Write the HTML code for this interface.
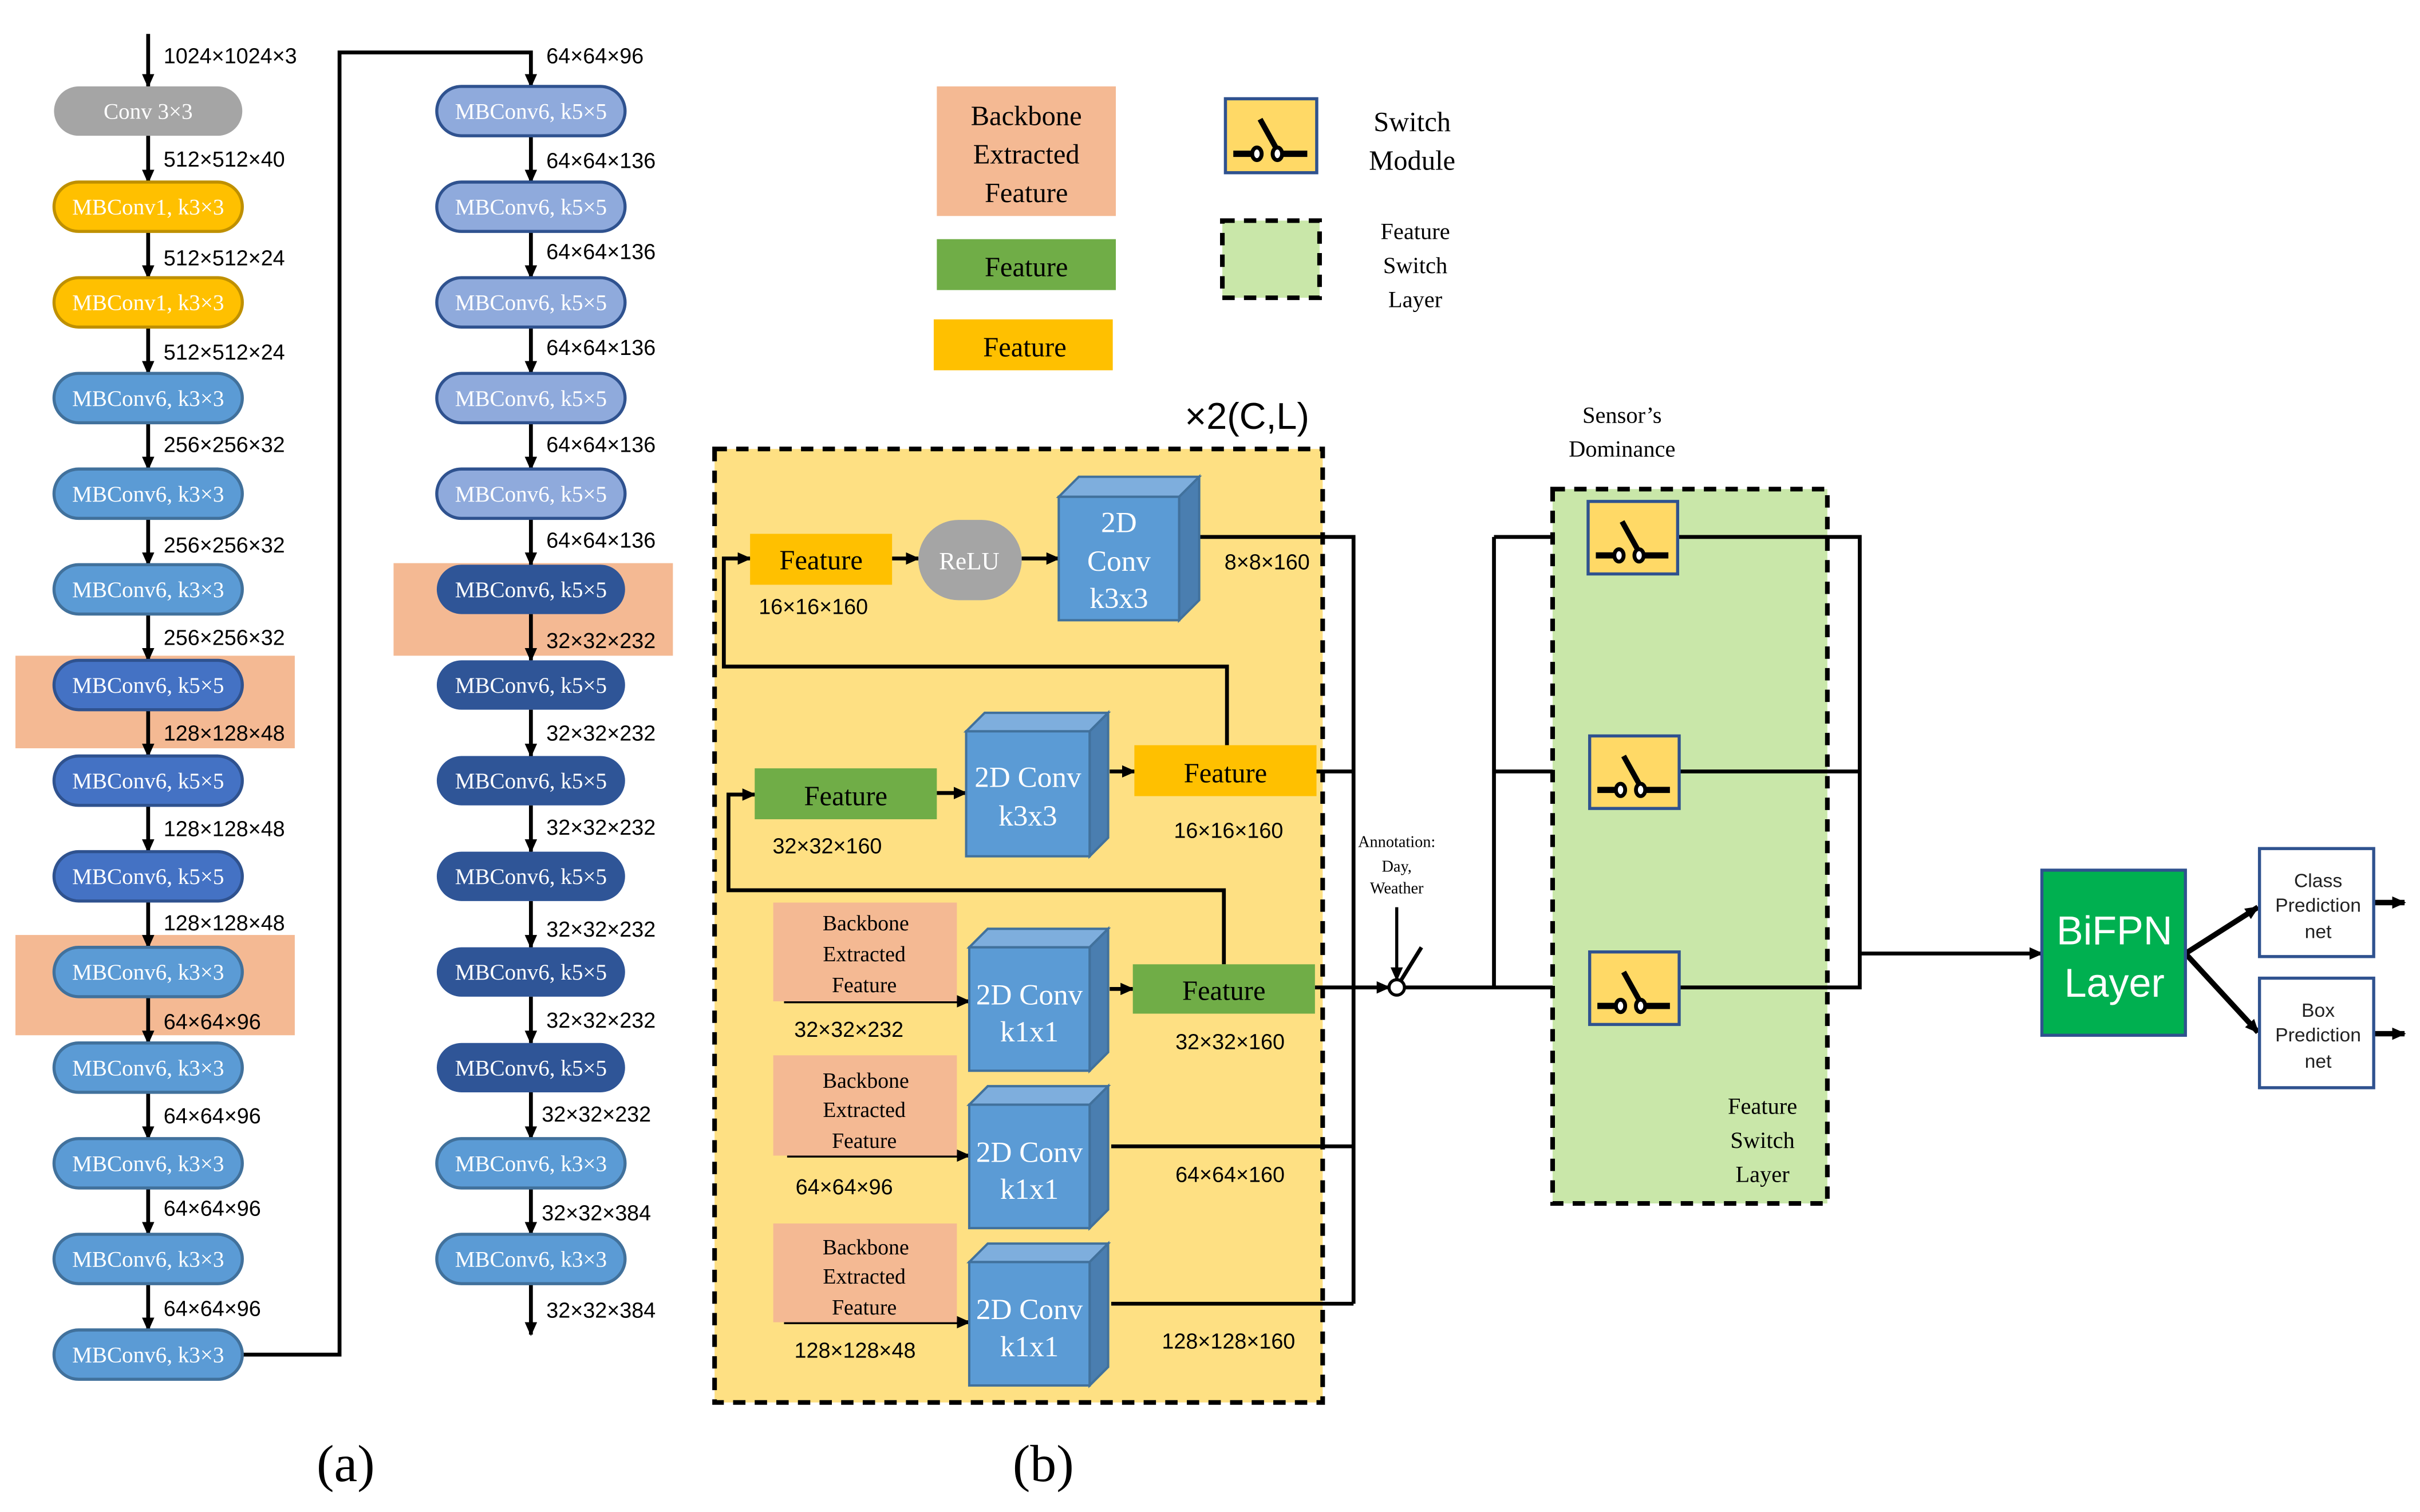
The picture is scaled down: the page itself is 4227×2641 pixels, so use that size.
<!DOCTYPE html>
<html><head><meta charset="utf-8"><style>html,body{margin:0;padding:0;background:#fff}svg{display:block}</style></head>
<body>
<svg xmlns="http://www.w3.org/2000/svg" width="4227" height="2641" viewBox="0 0 1568 980" preserveAspectRatio="none">
<defs>
<marker id="ar" markerWidth="9" markerHeight="8" refX="8" refY="4" orient="auto" markerUnits="userSpaceOnUse"><path d="M0,0 L9,4 L0,8 Z" fill="#000"/></marker>
<g id="sw">
<rect x="0" y="0" width="58" height="47" fill="#ffd966" stroke="#2f528f" stroke-width="2"/>
<line x1="5" y1="35" x2="18" y2="35" stroke="#000" stroke-width="4"/>
<line x1="32" y1="35" x2="52" y2="35" stroke="#000" stroke-width="4"/>
<line x1="22" y1="13" x2="32" y2="31" stroke="#000" stroke-width="3.5"/>
<ellipse cx="20" cy="35" rx="3" ry="4" fill="#fff" stroke="#000" stroke-width="2.5"/>
<ellipse cx="33" cy="35" rx="3" ry="4" fill="#fff" stroke="#000" stroke-width="2.5"/>
</g>
</defs>
<rect width="1568" height="980" fill="#fff"/>

<rect x="10" y="425" width="181" height="60" fill="#f4b993"/>
<rect x="10" y="606" width="181" height="65" fill="#f4b993"/>
<rect x="255" y="365" width="181" height="60" fill="#f4b993"/>

<g stroke="#000" stroke-width="2.5" fill="none" marker-end="url(#ar)">
<line x1="96" y1="22" x2="96" y2="56"/>
<line x1="96" y1="88" x2="96" y2="118"/>
<line x1="96" y1="150" x2="96" y2="180"/>
<line x1="96" y1="212" x2="96" y2="242"/>
<line x1="96" y1="274" x2="96" y2="304"/>
<line x1="96" y1="336" x2="96" y2="366"/>
<line x1="96" y1="398" x2="96" y2="428"/>
<line x1="96" y1="460" x2="96" y2="490"/>
<line x1="96" y1="522" x2="96" y2="552"/>
<line x1="96" y1="584" x2="96" y2="614"/>
<line x1="96" y1="646" x2="96" y2="676"/>
<line x1="96" y1="708" x2="96" y2="738"/>
<line x1="96" y1="770" x2="96" y2="800"/>
<line x1="96" y1="832" x2="96" y2="862"/>
<polyline points="157,878 220,878 220,34 344,34 344,56"/>
<line x1="344" y1="88" x2="344" y2="118"/>
<line x1="344" y1="150" x2="344" y2="180"/>
<line x1="344" y1="212" x2="344" y2="242"/>
<line x1="344" y1="274" x2="344" y2="304"/>
<line x1="344" y1="336" x2="344" y2="366"/>
<line x1="344" y1="398" x2="344" y2="428"/>
<line x1="344" y1="460" x2="344" y2="490"/>
<line x1="344" y1="522" x2="344" y2="552"/>
<line x1="344" y1="584" x2="344" y2="614"/>
<line x1="344" y1="646" x2="344" y2="676"/>
<line x1="344" y1="708" x2="344" y2="738"/>
<line x1="344" y1="770" x2="344" y2="800"/>
<line x1="344" y1="832" x2="344" y2="865"/>
</g>

<g font-family="Liberation Serif, serif" font-size="14.5" fill="#fff" text-anchor="middle">
<rect x="35" y="56" width="122" height="32" rx="16" fill="#a5a5a5"/><text x="96" y="77">Conv 3×3</text>
<rect x="35" y="118" width="122" height="32" rx="16" fill="#ffc000" stroke="#bf9000" stroke-width="2"/><text x="96" y="139">MBConv1, k3×3</text>
<rect x="35" y="180" width="122" height="32" rx="16" fill="#ffc000" stroke="#bf9000" stroke-width="2"/><text x="96" y="201">MBConv1, k3×3</text>
<rect x="35" y="242" width="122" height="32" rx="16" fill="#5b9bd5" stroke="#41719c" stroke-width="2"/><text x="96" y="263">MBConv6, k3×3</text>
<rect x="35" y="304" width="122" height="32" rx="16" fill="#5b9bd5" stroke="#41719c" stroke-width="2"/><text x="96" y="325">MBConv6, k3×3</text>
<rect x="35" y="366" width="122" height="32" rx="16" fill="#5b9bd5" stroke="#41719c" stroke-width="2"/><text x="96" y="387">MBConv6, k3×3</text>
<rect x="35" y="428" width="122" height="32" rx="16" fill="#4472c4" stroke="#2f528f" stroke-width="2"/><text x="96" y="449">MBConv6, k5×5</text>
<rect x="35" y="490" width="122" height="32" rx="16" fill="#4472c4" stroke="#2f528f" stroke-width="2"/><text x="96" y="511">MBConv6, k5×5</text>
<rect x="35" y="552" width="122" height="32" rx="16" fill="#4472c4" stroke="#2f528f" stroke-width="2"/><text x="96" y="573">MBConv6, k5×5</text>
<rect x="35" y="614" width="122" height="32" rx="16" fill="#5b9bd5" stroke="#41719c" stroke-width="2"/><text x="96" y="635">MBConv6, k3×3</text>
<rect x="35" y="676" width="122" height="32" rx="16" fill="#5b9bd5" stroke="#41719c" stroke-width="2"/><text x="96" y="697">MBConv6, k3×3</text>
<rect x="35" y="738" width="122" height="32" rx="16" fill="#5b9bd5" stroke="#41719c" stroke-width="2"/><text x="96" y="759">MBConv6, k3×3</text>
<rect x="35" y="800" width="122" height="32" rx="16" fill="#5b9bd5" stroke="#41719c" stroke-width="2"/><text x="96" y="821">MBConv6, k3×3</text>
<rect x="35" y="862" width="122" height="32" rx="16" fill="#5b9bd5" stroke="#41719c" stroke-width="2"/><text x="96" y="883">MBConv6, k3×3</text>
<rect x="283" y="56" width="122" height="32" rx="16" fill="#8faadc" stroke="#2f528f" stroke-width="2"/><text x="344" y="77">MBConv6, k5×5</text>
<rect x="283" y="118" width="122" height="32" rx="16" fill="#8faadc" stroke="#2f528f" stroke-width="2"/><text x="344" y="139">MBConv6, k5×5</text>
<rect x="283" y="180" width="122" height="32" rx="16" fill="#8faadc" stroke="#2f528f" stroke-width="2"/><text x="344" y="201">MBConv6, k5×5</text>
<rect x="283" y="242" width="122" height="32" rx="16" fill="#8faadc" stroke="#2f528f" stroke-width="2"/><text x="344" y="263">MBConv6, k5×5</text>
<rect x="283" y="304" width="122" height="32" rx="16" fill="#8faadc" stroke="#2f528f" stroke-width="2"/><text x="344" y="325">MBConv6, k5×5</text>
<rect x="283" y="366" width="122" height="32" rx="16" fill="#2f5597"/><text x="344" y="387">MBConv6, k5×5</text>
<rect x="283" y="428" width="122" height="32" rx="16" fill="#2f5597"/><text x="344" y="449">MBConv6, k5×5</text>
<rect x="283" y="490" width="122" height="32" rx="16" fill="#2f5597"/><text x="344" y="511">MBConv6, k5×5</text>
<rect x="283" y="552" width="122" height="32" rx="16" fill="#2f5597"/><text x="344" y="573">MBConv6, k5×5</text>
<rect x="283" y="614" width="122" height="32" rx="16" fill="#2f5597"/><text x="344" y="635">MBConv6, k5×5</text>
<rect x="283" y="676" width="122" height="32" rx="16" fill="#2f5597"/><text x="344" y="697">MBConv6, k5×5</text>
<rect x="283" y="738" width="122" height="32" rx="16" fill="#5b9bd5" stroke="#41719c" stroke-width="2"/><text x="344" y="759">MBConv6, k3×3</text>
<rect x="283" y="800" width="122" height="32" rx="16" fill="#5b9bd5" stroke="#41719c" stroke-width="2"/><text x="344" y="821">MBConv6, k3×3</text>
</g>

<g font-family="Liberation Sans, sans-serif" font-size="14" fill="#000">
<text x="106" y="41">1024×1024×3</text>
<text x="106" y="108">512×512×40</text>
<text x="106" y="172">512×512×24</text>
<text x="106" y="233">512×512×24</text>
<text x="106" y="293">256×256×32</text>
<text x="106" y="358">256×256×32</text>
<text x="106" y="418">256×256×32</text>
<text x="106" y="480">128×128×48</text>
<text x="106" y="542">128×128×48</text>
<text x="106" y="603">128×128×48</text>
<text x="106" y="667">64×64×96</text>
<text x="106" y="728">64×64×96</text>
<text x="106" y="788">64×64×96</text>
<text x="106" y="853">64×64×96</text>
<text x="354" y="41">64×64×96</text>
<text x="354" y="109">64×64×136</text>
<text x="354" y="168">64×64×136</text>
<text x="354" y="230">64×64×136</text>
<text x="354" y="293">64×64×136</text>
<text x="354" y="355">64×64×136</text>
<text x="354" y="420">32×32×232</text>
<text x="354" y="480">32×32×232</text>
<text x="354" y="541">32×32×232</text>
<text x="354" y="607">32×32×232</text>
<text x="354" y="666">32×32×232</text>
<text x="351" y="727">32×32×232</text>
<text x="351" y="791">32×32×384</text>
<text x="354" y="854">32×32×384</text>
</g>

<rect x="607" y="56" width="116" height="84" fill="#f4b993"/>
<rect x="607" y="155" width="116" height="33" fill="#70ad47"/>
<rect x="605" y="207" width="116" height="33" fill="#ffc000"/>
<g font-family="Liberation Serif, serif" font-size="18" fill="#000" text-anchor="middle">
<text x="665" y="81">Backbone</text><text x="665" y="106">Extracted</text><text x="665" y="131">Feature</text>
<text x="665" y="179">Feature</text>
<text x="664" y="231">Feature</text>
<text x="915" y="85">Switch</text><text x="915" y="110">Module</text>
<text x="917" y="155" font-size="15">Feature</text><text x="917" y="177" font-size="15">Switch</text><text x="917" y="199" font-size="15">Layer</text>
</g>
<g transform="translate(794,64) scale(1.02)"><use href="#sw"/></g>
<rect x="792" y="143" width="63" height="50" fill="#c9e7a9" stroke="#000" stroke-width="3" stroke-dasharray="8,6"/>

<rect x="463" y="291" width="394" height="618" fill="#fee083" stroke="#000" stroke-width="3" stroke-dasharray="8,6"/>
<text x="808" y="278" font-family="Liberation Sans, sans-serif" font-size="24" text-anchor="middle">×2(C,L)</text>

<g stroke="#000" stroke-width="2.5" fill="none">
<polyline points="777,348 877,348 877,845"/>
<line x1="853" y1="500" x2="877" y2="500"/>
<line x1="720" y1="743" x2="877" y2="743"/>
<line x1="720" y1="845" x2="877" y2="845"/>
<polyline points="795,483 795,432 469,432 469,362 486,362" marker-end="url(#ar)"/>
<polyline points="793,625 793,577 472,577 472,515 489,515" marker-end="url(#ar)"/>
<line x1="578" y1="362" x2="595" y2="362" marker-end="url(#ar)"/>
<line x1="662" y1="362" x2="686" y2="362" marker-end="url(#ar)"/>
<line x1="607" y1="514" x2="626" y2="514" marker-end="url(#ar)"/>
<line x1="719" y1="500" x2="735" y2="500" marker-end="url(#ar)"/>
<line x1="719" y1="641" x2="734" y2="641" marker-end="url(#ar)"/>
<line x1="508" y1="649" x2="628" y2="649" marker-end="url(#ar)"/>
<line x1="510" y1="749" x2="628" y2="749" marker-end="url(#ar)"/>
<line x1="508" y1="857" x2="628" y2="857" marker-end="url(#ar)"/>
<line x1="852" y1="640" x2="900" y2="640" marker-end="url(#ar)"/>
<line x1="905" y1="588" x2="905" y2="635" stroke-width="2" marker-end="url(#ar)"/>
<line x1="908" y1="635" x2="921" y2="614"/>
<line x1="910" y1="640" x2="968" y2="640"/>
<line x1="968" y1="348" x2="968" y2="640"/>
<line x1="968" y1="348" x2="1028" y2="348" marker-end="url(#ar)"/>
<line x1="968" y1="500" x2="1030" y2="500" marker-end="url(#ar)"/>
<line x1="968" y1="640" x2="1030" y2="640" marker-end="url(#ar)"/>
</g>
<circle cx="905" cy="640" r="5" fill="#fff" stroke="#000" stroke-width="2"/>

<rect x="486" y="346" width="92" height="33" fill="#ffc000"/>
<rect x="595" y="337" width="67" height="52" rx="26" fill="#a5a5a5"/>
<rect x="489" y="498" width="118" height="33" fill="#70ad47"/>
<rect x="735" y="483" width="118" height="33" fill="#ffc000"/>
<rect x="501" y="585" width="119" height="64" fill="#f4b993"/>
<rect x="734" y="625" width="118" height="32" fill="#70ad47"/>
<rect x="501" y="684" width="119" height="65" fill="#f4b993"/>
<rect x="501" y="793" width="119" height="64" fill="#f4b993"/>

<g stroke="#41719c" stroke-width="1.5">
<polygon points="686,322 699,309 777,309 764,322" fill="#7eaedd"/><polygon points="764,322 777,309 777,389 764,402" fill="#4a7eb0"/><rect x="686" y="322" width="78" height="80" fill="#5b9bd5"/>
<polygon points="626,474 638,462 718,462 706,474" fill="#7eaedd"/><polygon points="706,474 718,462 718,543 706,555" fill="#4a7eb0"/><rect x="626" y="474" width="80" height="81" fill="#5b9bd5"/>
<polygon points="628,614 640,602 718,602 706,614" fill="#7eaedd"/><polygon points="706,614 718,602 718,682 706,694" fill="#4a7eb0"/><rect x="628" y="614" width="78" height="80" fill="#5b9bd5"/>
<polygon points="628,716 640,704 718,704 706,716" fill="#7eaedd"/><polygon points="706,716 718,704 718,784 706,796" fill="#4a7eb0"/><rect x="628" y="716" width="78" height="80" fill="#5b9bd5"/>
<polygon points="628,818 640,806 718,806 706,818" fill="#7eaedd"/><polygon points="706,818 718,806 718,886 706,898" fill="#4a7eb0"/><rect x="628" y="818" width="78" height="80" fill="#5b9bd5"/>
</g>

<g font-family="Liberation Serif, serif" fill="#fff" text-anchor="middle" font-size="19">
<text x="725" y="345">2D</text><text x="725" y="370">Conv</text><text x="725" y="394">k3x3</text>
<text x="666" y="510">2D Conv</text><text x="666" y="535">k3x3</text>
<text x="667" y="651">2D Conv</text><text x="667" y="675">k1x1</text>
<text x="667" y="753">2D Conv</text><text x="667" y="777">k1x1</text>
<text x="667" y="855">2D Conv</text><text x="667" y="879">k1x1</text>
<text x="628" y="369" font-size="16">ReLU</text>
</g>
<g font-family="Liberation Serif, serif" fill="#000" text-anchor="middle" font-size="18">
<text x="532" y="369">Feature</text>
<text x="548" y="522">Feature</text>
<text x="794" y="507">Feature</text>
<text x="793" y="648">Feature</text>
</g>
<g font-family="Liberation Serif, serif" fill="#000" text-anchor="middle" font-size="14">
<text x="561" y="603">Backbone</text><text x="560" y="623">Extracted</text><text x="560" y="643">Feature</text>
<text x="561" y="705">Backbone</text><text x="560" y="724">Extracted</text><text x="560" y="744">Feature</text>
<text x="561" y="813">Backbone</text><text x="560" y="832">Extracted</text><text x="560" y="852">Feature</text>
</g>
<g font-family="Liberation Sans, sans-serif" fill="#000" text-anchor="middle" font-size="14">
<text x="527" y="398">16×16×160</text>
<text x="821" y="369">8×8×160</text>
<text x="536" y="553">32×32×160</text>
<text x="796" y="543">16×16×160</text>
<text x="550" y="672">32×32×232</text>
<text x="797" y="680">32×32×160</text>
<text x="547" y="774">64×64×96</text>
<text x="797" y="766">64×64×160</text>
<text x="554" y="880">128×128×48</text>
<text x="796" y="874">128×128×160</text>
</g>
<g font-family="Liberation Serif, serif" fill="#000" text-anchor="middle" font-size="10.5">
<text x="905" y="549">Annotation:</text><text x="905" y="565">Day,</text><text x="905" y="579">Weather</text>
</g>

<rect x="1006" y="317" width="178" height="463" fill="#c9e7a9" stroke="#000" stroke-width="3" stroke-dasharray="8,6"/>
<g font-family="Liberation Serif, serif" fill="#000" text-anchor="middle" font-size="15">
<text x="1051" y="274">Sensor’s</text><text x="1051" y="296">Dominance</text>
<text x="1142" y="722">Feature</text><text x="1142" y="744">Switch</text><text x="1142" y="766">Layer</text>
</g>
<g stroke="#000" stroke-width="2.5" fill="none">
<polyline points="1087,348 1205,348 1205,640 1088,640"/>
<line x1="1088" y1="500" x2="1205" y2="500"/>
<line x1="1205" y1="618" x2="1323" y2="618" marker-end="url(#ar)"/>
<line x1="1416" y1="618" x2="1463" y2="588" stroke-width="3.5" marker-end="url(#ar)"/>
<line x1="1416" y1="618" x2="1463" y2="669" stroke-width="3.5" marker-end="url(#ar)"/>
<line x1="1538" y1="585" x2="1558" y2="585" stroke-width="3.5" marker-end="url(#ar)"/>
<line x1="1538" y1="670" x2="1558" y2="670" stroke-width="3.5" marker-end="url(#ar)"/>
</g>
<g transform="translate(1029,325)"><use href="#sw"/></g>
<g transform="translate(1030,477)"><use href="#sw"/></g>
<g transform="translate(1030,617)"><use href="#sw"/></g>

<rect x="1323" y="564" width="93" height="107" fill="#00b050" stroke="#2f528f" stroke-width="2"/>
<g font-family="Liberation Sans, sans-serif" fill="#fff" text-anchor="middle" font-size="26">
<text x="1370" y="612">BiFPN</text><text x="1370" y="646">Layer</text>
</g>
<rect x="1464" y="550" width="74" height="70" fill="#fff" stroke="#2f528f" stroke-width="2"/>
<rect x="1464" y="634" width="74" height="71" fill="#fff" stroke="#2f528f" stroke-width="2"/>
<g font-family="Liberation Sans, sans-serif" fill="#222" text-anchor="middle" font-size="12.5">
<text x="1502" y="575">Class</text><text x="1502" y="591">Prediction</text><text x="1502" y="608">net</text>
<text x="1502" y="659">Box</text><text x="1502" y="675">Prediction</text><text x="1502" y="692">net</text>
</g>

<g font-family="Liberation Serif, serif" fill="#000" text-anchor="middle" font-size="34">
<text x="224" y="960">(a)</text><text x="676" y="960">(b)</text>
</g>
</svg>
</body></html>
